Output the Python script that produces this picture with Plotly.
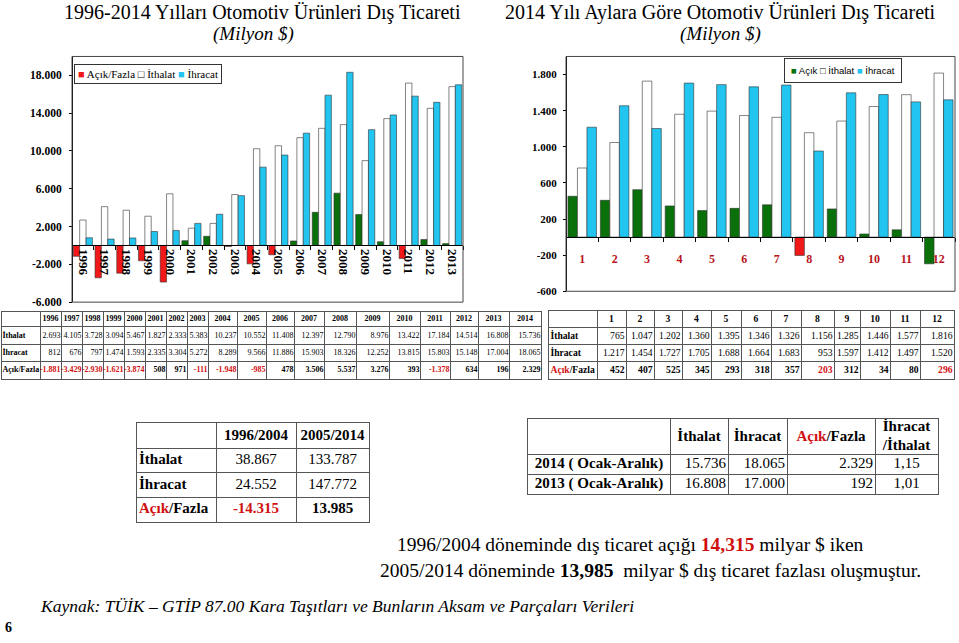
import plotly.graph_objects as go

W, H = 959, 643

# ---------------- Data: yearly chart (1996-2013) ----------------
yillar = ['1996', '1997', '1998', '1999', '2000', '2001', '2002', '2003', '2004',
          '2005', '2006', '2007', '2008', '2009', '2010', '2011', '2012', '2013']
ithalat_yil = [2693, 4105, 3728, 3094, 5467, 1827, 2333, 5383, 10237,
               10552, 11408, 12397, 12790, 8976, 13422, 17184, 14514, 16808]
ihracat_yil = [812, 676, 797, 1474, 1593, 2335, 3304, 5272, 8289,
               9566, 11886, 15903, 18326, 12252, 13815, 15803, 15148, 17004]
acik_yil = [-1150, -3429, -2930, -1621, -3874, 508, 971, -111, -1948,
            -985, 478, 3506, 5537, 3276, 393, -1378, 634, 196]
yil_ytick = [-6000, -2000, 2000, 6000, 10000, 14000, 18000]
yil_ytick_text = ['-6.000', '-2.000', '2.000', '6.000', '10.000', '14.000', '18.000']

# ---------------- Data: monthly chart (2014) ----------------
aylar = ['1', '2', '3', '4', '5', '6', '7', '8', '9', '10', '11', '12']
ithalat_ay = [765, 1047, 1727, 1360, 1395, 1346, 1326, 1156, 1285, 1446, 1577, 1816]
ihracat_ay = [1217, 1454, 1202, 1705, 1688, 1664, 1683, 953, 1597, 1578, 1497, 1520]
acik_ay = [452, 407, 525, 345, 293, 318, 357, -203, 312, 34, 80, -296]
ay_ytick = [-600, -200, 200, 600, 1000, 1400, 1800]
ay_ytick_text = ['-600', '-200', '200', '600', '1.000', '1.400', '1.800']

# ---------------- Data: tables ----------------
tablo_yillar = ['1996', '1997', '1998', '1999', '2000', '2001', '2002', '2003', '2004', '2005',
                '2006', '2007', '2008', '2009', '2010', '2011', '2012', '2013', '2014']
tablo_ithalat = ['2.693', '4.105', '3.728', '3.094', '5.467', '1.827', '2.333', '5.383', '10.237', '10.552',
                 '11.408', '12.397', '12.790', '8.976', '13.422', '17.184', '14.514', '16.808', '15.736']
tablo_ihracat = ['812', '676', '797', '1.474', '1.593', '2.335', '3.304', '5.272', '8.289', '9.566',
                 '11.886', '15.903', '18.326', '12.252', '13.815', '15.803', '15.148', '17.004', '18.065']
tablo_acik = ['-1.881', '-3.429', '-2.930', '-1.621', '-3.874', '508', '971', '-111', '-1.948', '-985',
              '478', '3.506', '5.537', '3.276', '393', '-1.378', '634', '196', '2.329']

ay_ithalat_t = ['765', '1.047', '1.202', '1.360', '1.395', '1.346', '1.326', '1.156', '1.285', '1.446', '1.577', '1.816']
ay_ihracat_t = ['1.217', '1.454', '1.727', '1.705', '1.688', '1.664', '1.683', '953', '1.597', '1.412', '1.497', '1.520']
ay_acik_t = ['452', '407', '525', '345', '293', '318', '357', '203', '312', '34', '80', '296']

donemler = ['1996/2004', '2005/2014']
donem_ithalat = ['38.867', '133.787']
donem_ihracat = ['24.552', '147.772']
donem_acik = ['-14.315', '13.985']

kars_satir = ['2014 ( Ocak-Aralık)', '2013 ( Ocak-Aralık)']
kars_ithalat = ['15.736', '16.808']
kars_ihracat = ['18.065', '17.000']
kars_acik = ['2.329', '192']
kars_oran = ['1,15', '1,01']

# ---------------- Styles ----------------
SERIF = "Liberation Serif, Times New Roman, serif"
SANS = "Liberation Sans, Arial, sans-serif"
RED = "#f01818"
GREEN = "#0a700a"
CYAN = "#22c4f0"
TXTRED = "#d01010"
DARKRED = "#b8141c"
EDGE = "#333333"
GRID = "#555555"
ay_bar_renk = [GREEN] * 7 + [RED] + [GREEN] * 4

L_RANGE = [-6000, 20000]
L_DX = [72 / W, 463 / W]
L_DY = [1 - 305 / H, 1 - 57 / H]
R_RANGE = [-600, 2000]
R_DX = [566 / W, 955 / W]
R_DY = [1 - 294 / H, 1 - 57 / H]


def zero_pos(dom, rng):
    return dom[0] + (0 - rng[0]) / (rng[1] - rng[0]) * (dom[1] - dom[0])


fig = go.Figure()

# yearly bars
fig.add_trace(go.Bar(x=yillar, y=acik_yil, name='Açık/Fazla', xaxis='x', yaxis='y',
                     marker=dict(color=[RED if v < 0 else GREEN for v in acik_yil],
                                 line=dict(color=EDGE, width=0.6))))
fig.add_trace(go.Bar(x=yillar, y=ithalat_yil, name='İthalat', xaxis='x', yaxis='y',
                     marker=dict(color='white', line=dict(color=EDGE, width=0.6))))
fig.add_trace(go.Bar(x=yillar, y=ihracat_yil, name='İhracat', xaxis='x', yaxis='y',
                     marker=dict(color=CYAN, line=dict(color=EDGE, width=0.6))))

# monthly bars
fig.add_trace(go.Bar(x=aylar, y=acik_ay, name='Açık', xaxis='x2', yaxis='y2',
                     marker=dict(color=ay_bar_renk, line=dict(color=EDGE, width=0.6))))
fig.add_trace(go.Bar(x=aylar, y=ithalat_ay, name='İthalat', xaxis='x2', yaxis='y2',
                     marker=dict(color='white', line=dict(color=EDGE, width=0.6))))
fig.add_trace(go.Bar(x=aylar, y=ihracat_ay, name='İhracat', xaxis='x2', yaxis='y2',
                     marker=dict(color=CYAN, line=dict(color=EDGE, width=0.6))))


# ---------------- Tables (drawn on their own axes) ----------------
def b(s):
    return '<b>' + s + '</b>'


def red_span(s):
    return '<span style="color:%s">%s</span>' % (TXTRED, s)


acik_lbl = b(red_span('Açık') + '/Fazla')

layout_axes = {}


def add_table(n, x0, y0, colw, rowh, grid, size, pad=2):
    """grid: list of rows, each row list of (text, align, color) per column."""
    xs, ys, ts, pos, cols = [], [], [], [], []
    xb = [0]
    for w in colw:
        xb.append(xb[-1] + w)
    yb = [0]
    for h in rowh:
        yb.append(yb[-1] + h)
    for r, row in enumerate(grid):
        yc = (yb[r] + yb[r + 1]) / 2
        for c, cell in enumerate(row):
            text, align, color = cell
            if text == '':
                continue
            if align == 'left':
                xs.append(xb[c] + pad); pos.append('middle right')
            elif align == 'right':
                xs.append(xb[c + 1] - pad); pos.append('middle left')
            else:
                xs.append((xb[c] + xb[c + 1]) / 2); pos.append('middle center')
            ys.append(yc); ts.append(text); cols.append(color)
    fig.add_trace(go.Scatter(x=xs, y=ys, text=ts, mode='text', textposition=pos,
                             textfont=dict(family=SERIF, size=size, color=cols),
                             xaxis='x%d' % n, yaxis='y%d' % n, hoverinfo='skip',
                             cliponaxis=False))
    common = dict(showgrid=True, gridcolor=GRID, gridwidth=1, showticklabels=False, ticks='',
                  zeroline=False, showline=True, mirror=True, linecolor=GRID, linewidth=1,
                  fixedrange=True)
    layout_axes['xaxis%d' % n] = dict(domain=[x0 / W, (x0 + xb[-1]) / W], range=[0, xb[-1]],
                                      tickvals=xb, anchor='y%d' % n, **common)
    layout_axes['yaxis%d' % n] = dict(domain=[1 - (y0 + yb[-1]) / H, 1 - y0 / H], range=[yb[-1], 0],
                                      tickvals=yb, anchor='x%d' % n, **common)


# yearly table
g = [[('', 'center', 'black')] + [(b(y), 'center', 'black') for y in tablo_yillar],
     [(b('İthalat'), 'left', 'black')] + [(v, 'right', 'black') for v in tablo_ithalat],
     [(b('İhracat'), 'left', 'black')] + [(v, 'right', 'black') for v in tablo_ihracat],
     [(b('Açık/Fazla'), 'left', 'black')] +
     [(b(v), 'right', TXTRED if v.startswith('-') else 'black') for v in tablo_acik]]
add_table(3, 2, 315, [38] + [21] * 8 + [29, 29, 28, 30, 32, 33, 31, 30, 28, 31, 32],
          [15, 17.5, 17.5, 18], g, 8, pad=0.4)

# monthly table
g = [[('', 'center', 'black')] + [(b(a), 'center', 'black') for a in aylar],
     [(b('İthalat'), 'left', 'black')] + [(v, 'right', 'black') for v in ay_ithalat_t],
     [(b('İhracat'), 'left', 'black')] + [(v, 'right', 'black') for v in ay_ihracat_t],
     [(acik_lbl, 'left', 'black')] +
     [(b(ay_acik_t[i]), 'right', TXTRED if acik_ay[i] < 0 else 'black') for i in range(len(aylar))]]
add_table(4, 549, 314, [48, 29, 28, 28, 29, 30, 30, 30, 33, 26, 30, 30, 34],
          [17, 17, 17, 18], g, 9.6, pad=1.5)

# period table
g = [[('', 'center', 'black')] + [(b(d), 'center', 'black') for d in donemler],
     [(b('İthalat'), 'left', 'black')] + [(v, 'center', 'black') for v in donem_ithalat],
     [(b('İhracat'), 'left', 'black')] + [(v, 'center', 'black') for v in donem_ihracat],
     [(acik_lbl, 'left', 'black')] +
     [(b(v), 'center', TXTRED if v.startswith('-') else 'black') for v in donem_acik]]
add_table(5, 137, 427, [79, 80, 73], [26, 24, 25, 25], g, 15, pad=2)

# comparison table
g = [[('', 'center', 'black'), (b('İthalat'), 'center', 'black'), (b('İhracat'), 'center', 'black'),
      (acik_lbl, 'center', 'black'), (b('İhracat<br>/İthalat'), 'center', 'black')]]
for i in range(len(kars_satir)):
    g.append([(b(kars_satir[i]), 'center', 'black'), (kars_ithalat[i], 'right', 'black'),
              (kars_ihracat[i], 'right', 'black'), (kars_acik[i], 'right', 'black'),
              (kars_oran[i], 'center', 'black')])
add_table(6, 528, 423, [142, 58, 59, 88, 63], [36, 20, 20], g, 15, pad=2)

# ---------------- Annotations ----------------
ann = []
ann.append(dict(text='1996-2014 Yılları Otomotiv Ürünleri Dış Ticareti', x=262 / W, y=1 - 13 / H,
                font=dict(family=SERIF, size=20, color='black')))
ann.append(dict(text='<i>(Milyon $)</i>', x=253 / W, y=1 - 34 / H,
                font=dict(family=SERIF, size=19, color='black')))
ann.append(dict(text='2014 Yılı Aylara Göre Otomotiv Ürünleri Dış Ticareti', x=720 / W, y=1 - 13 / H,
                font=dict(family=SERIF, size=20, color='black')))
ann.append(dict(text='<i>(Milyon $)</i>', x=720 / W, y=1 - 34 / H,
                font=dict(family=SERIF, size=19, color='black')))
# legends
ann.append(dict(text='<span style="color:%s">■</span> Açık/Fazla □ İthalat <span style="color:%s">■</span> İhracat' % (RED, CYAN),
                x=74 / W, y=1 - 65 / H, xanchor='left', yanchor='top', bordercolor='#333', borderwidth=1,
                borderpad=3, bgcolor='white', font=dict(family=SERIF, size=11, color='black')))
ann.append(dict(text='<span style="color:%s">■</span> Açık □ İthalat <span style="color:%s">■</span> İhracat' % (GREEN, CYAN),
                x=784 / W, y=1 - 59 / H, xanchor='left', yanchor='top', bordercolor='#333', borderwidth=1,
                borderpad=6, bgcolor='white', font=dict(family=SANS, size=9.5, color='black')))
# text block
ann.append(dict(text='1996/2004 döneminde dış ticaret açığı <b><span style="color:%s">14,315</span></b> milyar $ iken' % TXTRED,
                x=630 / W, y=1 - 550 / H, font=dict(family=SERIF, size=19.5, color='black')))
ann.append(dict(text='2005/2014 döneminde <b>13,985</b>  milyar $ dış ticaret fazlası oluşmuştur.',
                x=650 / W, y=1 - 576 / H, font=dict(family=SERIF, size=19.5, color='black')))
ann.append(dict(text='<i>Kaynak: TÜİK – GTİP 87.00 Kara Taşıtları ve Bunların Aksam ve Parçaları Verileri</i>',
                x=38 / W, y=1 - 612 / H, xanchor='left', font=dict(family=SERIF, size=17.5, color='black')))
ann.append(dict(text='<b>6</b>', x=3 / W, y=1 - 633 / H, xanchor='left',
                font=dict(family=SERIF, size=14, color='black')))
for a in ann:
    a.setdefault('xref', 'paper')
    a.setdefault('yref', 'paper')
    a.setdefault('showarrow', False)
    a.setdefault('xanchor', 'center')
    a.setdefault('yanchor', 'middle')

shapes = [
    dict(type='rect', xref='x domain', yref='y domain', x0=0, x1=1, y0=0, y1=1,
         line=dict(color='#444', width=1)),
    dict(type='rect', xref='x2 domain', yref='y2 domain', x0=0, x1=1, y0=0, y1=1,
         line=dict(color='#444', width=1)),
]

fig.update_layout(
    width=W, height=H, margin=dict(l=0, r=0, t=0, b=0),
    paper_bgcolor='white', plot_bgcolor='white',
    barmode='group', bargap=0.12, bargroupgap=0,
    showlegend=False,
    annotations=ann, shapes=shapes,
    xaxis=dict(domain=L_DX, anchor='free', position=zero_pos(L_DY, L_RANGE), type='category',
               showline=True, linecolor='black', linewidth=1, ticks='outside', tickson='boundaries',
               ticklen=4, tickcolor='black', tickangle=90, showgrid=False, fixedrange=True,
               tickfont=dict(family=SERIF, size=13, color='black', weight='bold')),
    yaxis=dict(domain=L_DY, anchor='free', position=L_DX[0], range=L_RANGE,
               tickvals=yil_ytick, ticktext=yil_ytick_text, showline=True, linecolor='black',
               ticks='outside', ticklen=3, tickcolor='black', showgrid=False, zeroline=False,
               ticklabelstandoff=5, fixedrange=True,
               tickfont=dict(family=SERIF, size=11.5, color='black', weight='bold')),
    xaxis2=dict(domain=R_DX, anchor='free', position=zero_pos(R_DY, R_RANGE), type='category',
                showline=True, linecolor='black', linewidth=1, ticks='outside', tickson='boundaries',
                ticklen=4, tickcolor='black', showgrid=False, ticklabelstandoff=11, fixedrange=True,
                tickfont=dict(family=SERIF, size=12, color=DARKRED, weight='bold')),
    yaxis2=dict(domain=R_DY, anchor='free', position=R_DX[0], range=R_RANGE,
                tickvals=ay_ytick, ticktext=ay_ytick_text, showline=True, linecolor='black',
                ticks='outside', ticklen=3, tickcolor='black', showgrid=False, zeroline=False,
                ticklabelstandoff=4, fixedrange=True,
                tickfont=dict(family=SERIF, size=11, color='black', weight='bold')),
    **layout_axes
)

fig.write_html("out.html", config={'displayModeBar': False},
               post_script="document.body.style.margin='0px';")
